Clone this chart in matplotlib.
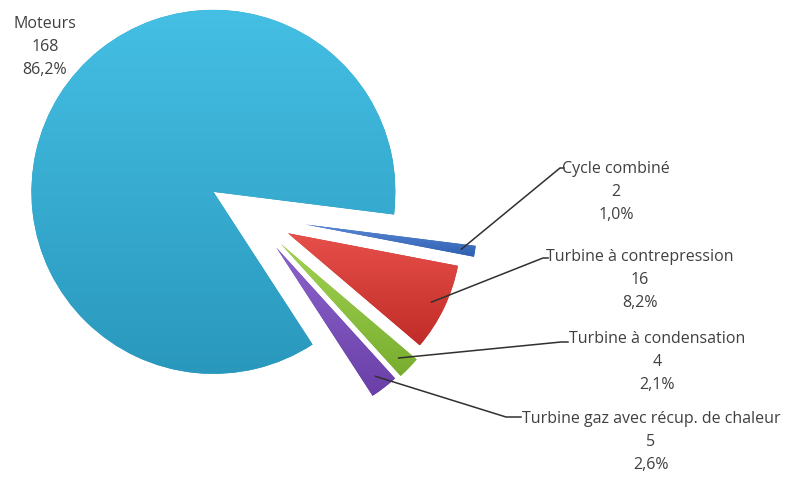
import matplotlib.pyplot as plt
import numpy as np
from matplotlib.colors import LinearSegmentedColormap

labels = ["Moteurs", "Cycle combiné", "Turbine à contrepression",
          "Turbine à condensation", "Turbine gaz avec récup. de chaleur"]
values = [168, 2, 16, 4, 5]

# style / layout
explode = [0.25, 0.3, 0.22, 0.22, 0.22]   # fraction of radius
shrink = [1.0, 0.94, 0.95, 0.98, 0.97]    # small slices look a bit smaller (perspective)
top_colors = ["#45bfe4", "#5a88d6", "#e8504a", "#a2d451", "#8c63cc"]
bot_colors = ["#2a98bd", "#2f5fb0", "#c02c28", "#78ad2f", "#6a3fa8"]
text_color = "#404040"

W, H = 810, 483
center = (252, H - 216)
radius = 182

# label blocks: (x centre, y of middle line) in picture coords, leader elbow, leader end
label_pos = [(45, 47), (616, 192), (640, 280), (657, 362), (651, 442)]
elbows = [None, (560, 168), (543, 258), (561, 342), (506, 417)]
stub_end = [None, (564, 168), (548, 258), (568, 342), (521, 417)]

fig = plt.figure(figsize=(8.1, 4.83), dpi=100)
ax = fig.add_axes([0, 0, 1, 1])

wedges, _ = ax.pie(values, startangle=303, counterclock=False,
                   explode=[e * radius for e in explode],
                   center=center, radius=radius, colors=bot_colors,
                   wedgeprops=dict(linewidth=0))
for w, s in zip(wedges, shrink):
    w.set_radius(radius * s)

# vertical gradient inside each wedge
for w, c1, c2 in zip(wedges, top_colors, bot_colors):
    bb = w.get_window_extent().transformed(ax.transData.inverted())
    cmap = LinearSegmentedColormap.from_list("g", [c2, c1])
    grad = np.linspace(0, 1, 256).reshape(-1, 1)
    im = ax.imshow(grad, extent=[bb.x0, bb.x1, bb.y0, bb.y1], origin="lower",
                   cmap=cmap, aspect="auto", interpolation="bicubic", zorder=2)
    im.set_clip_path(w)

total = sum(values)
for i, (lab, v) in enumerate(zip(labels, values)):
    pct = f"{v / total * 100:.1f}".replace(".", ",") + "%"
    x, y = label_pos[i]
    ax.text(x, H - y, f"{lab}\n{v}\n{pct}", ha="center", va="center",
            fontsize=11.5, color=text_color, family="Open Sans",
            linespacing=1.62, zorder=5)
    if elbows[i] is None:
        continue
    w = wedges[i]
    mid = np.deg2rad((w.theta1 + w.theta2) / 2)
    sx = w.center[0] + 0.92 * w.r * np.cos(mid)
    sy = w.center[1] + 0.92 * w.r * np.sin(mid)
    ex, ey = elbows[i]
    tx, ty = stub_end[i]
    ax.plot([sx, ex, tx], [sy, H - ey, H - ty], color="#303030", lw=1.1, zorder=4)

ax.set_aspect("equal", adjustable="box")
ax.set_xlim(0, W)
ax.set_ylim(0, H)
ax.axis("off")

plt.savefig("out.png", dpi=100)
